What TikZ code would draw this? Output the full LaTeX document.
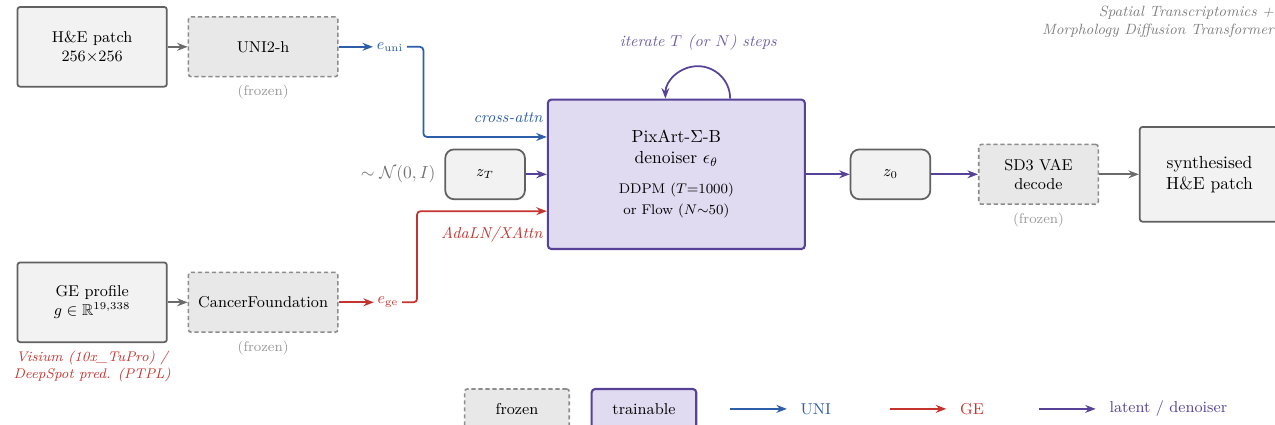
\documentclass[tikz,border=0pt]{standalone}
\usepackage{tikz}
\usetikzlibrary{positioning, arrows.meta, calc}
\usepackage{amsmath,amssymb}

\definecolor{uniblue}{RGB}{46,94,170}
\definecolor{gered}{RGB}{196,52,46}
\definecolor{latpurple}{RGB}{88,66,152}
\definecolor{denfill}{RGB}{224,219,240}

\begin{document}
\begin{tikzpicture}[
  input/.style={draw=black!62, line width=1pt, rounded corners=1.5pt, fill=black!5,
                minimum width=3.0cm, minimum height=1.6cm, align=center, font=\small},
  frozenbox/.style={draw=black!45, dash pattern=on 2.4pt off 1.6pt, line width=0.9pt,
                    rounded corners=1.5pt, fill=black!9, minimum width=3.0cm,
                    minimum height=1.2cm, align=center, font=\small},
  latent/.style={draw=black!62, line width=1pt, rounded corners=5pt, fill=black!5,
                 minimum width=1.6cm, minimum height=1.0cm, font=\small},
  denoise/.style={draw=latpurple, line width=1.2pt, rounded corners=2pt, fill=denfill,
                  minimum width=5.16cm, minimum height=3.0cm, align=center},
  arr/.style={-{Stealth[length=6pt]}, line width=1pt, color=black!58},
  uarr/.style={-{Stealth[length=6pt]}, line width=1pt, color=uniblue},
  garr/.style={-{Stealth[length=6pt]}, line width=1pt, color=gered},
  parr/.style={-{Stealth[length=6pt]}, line width=1pt, color=latpurple},
  note/.style={font=\footnotesize, text=black!40},
  lbl/.style={font=\small, inner sep=2pt},
]
\useasboundingbox (0,0) rectangle (25.6,-8.5333);

% --- UNI branch ---
\node[input] (he) at (1.85,-0.94) {H\&E patch\\256$\times$256};
\node[frozenbox, right=0.4cm of he] (uni) {UNI2-h};
\node[note, below=1pt of uni] (unifz) {(frozen)};
\node[lbl, text=uniblue] (euni) at (7.83,-0.94) {$e_{\text{uni}}$};

% --- GE branch ---
\node[input] (ge) at (1.85,-6.07) {GE profile\\$g \in \mathbb{R}^{19{,}338}$};
\node[note, text=gered, align=center, font=\footnotesize\itshape, below=1pt of ge] (gesrc)
  {Visium (10x\_TuPro) /\\DeepSpot pred. (PTPL)};
\node[frozenbox, right=0.4cm of ge] (cf) {CancerFoundation};
\node[note, below=1pt of cf] (cffz) {(frozen)};
\node[lbl, text=gered] (ege) at (7.79,-6.07) {$e_{\text{ge}}$};

% --- Denoiser row ---
\node[denoise] (dn) at (13.58,-3.5)
  {PixArt-$\Sigma$-B\\ denoiser $\epsilon_\theta$\\[5pt]
   \footnotesize DDPM ($T$=1000)\\ \footnotesize or Flow ($N{\sim}$50)};
\node[latent] (zT) at (9.74,-3.5) {$z_T$};
\node[lbl, text=black!55, font=\normalsize, left=0.1cm of zT] (noise) {$\sim\mathcal{N}(0,I)$};
\node[latent, right=0.88cm of dn] (z0) {$z_0$};
\node[frozenbox, minimum width=2.4cm, right=0.94cm of z0] (vae) {SD3 VAE\\decode};
\node[note, below=1pt of vae] (vaefz) {(frozen)};
\node[input, minimum width=2.8cm, minimum height=1.9cm, font=\normalsize, right=0.8cm of vae] (out)
  {synthesised\\H\&E patch};

\node[lbl, text=latpurple!85, font=\small\itshape] (iter) at (14.02,-0.86) {iterate $T$ (or $N$) steps};
\node[text=black!50, font=\fontsize{8.5}{10.3}\selectfont\itshape, align=right, anchor=north east, inner sep=1pt]
  (title) at (25.62,-0.08) {Spatial Transcriptomics +\\Morphology Diffusion Transformer};

% --- Arrows ---
\draw[arr] (he) -- (uni);
\draw[arr] (ge) -- (cf);
\draw[uarr] (uni) -- (euni);
\draw[garr] (cf) -- (ege);
\draw[uarr, rounded corners=2pt] (euni.east) -- ++(0.33,0) |- ([yshift=0.75cm]dn.west)
  node[lbl, text=uniblue, font=\small\itshape, above left, yshift=5.5pt] {cross-attn};
\draw[garr, rounded corners=2pt] (ege.east) -- ++(0.3,0) |- ([yshift=-0.74cm]dn.west)
  node[lbl, text=gered, font=\small\itshape, below left, yshift=-6.5pt] {AdaLN/XAttn};
\draw[parr] (zT) -- (dn);
\draw[parr] (dn) -- (z0);
\draw[parr] (z0) -- (vae);
\draw[arr] (vae) -- (out);
\draw[parr] ([xshift=1.08cm]dn.north) arc[start angle=0, end angle=180, radius=0.65cm];

% --- Legend ---
\node[frozenbox, minimum width=2.1cm, minimum height=0.8cm] (lgfz) at (10.38,-8.21) {frozen};
\node[denoise, minimum width=2.1cm, minimum height=0.8cm, font=\small] (lgtr) at (12.93,-8.21) {trainable};
\coordinate (lgu) at (14.66,-8.21);
\node[lbl, text=uniblue, anchor=west] (lguni) at (16.0,-8.21) {UNI};
\coordinate (lgg) at (17.87,-8.21);
\node[lbl, text=gered, anchor=west] (lgge) at (19.2,-8.21) {GE};
\coordinate (lgl) at (20.86,-8.21);
\node[lbl, text=latpurple, anchor=west] (lglat) at (22.2,-8.21) {latent / denoiser};
\draw[uarr] (lgu) -- ([xshift=-0.2cm]lguni.west);
\draw[garr] (lgg) -- ([xshift=-0.2cm]lgge.west);
\draw[parr] (lgl) -- ([xshift=-0.2cm]lglat.west);

\end{tikzpicture}
\end{document}
